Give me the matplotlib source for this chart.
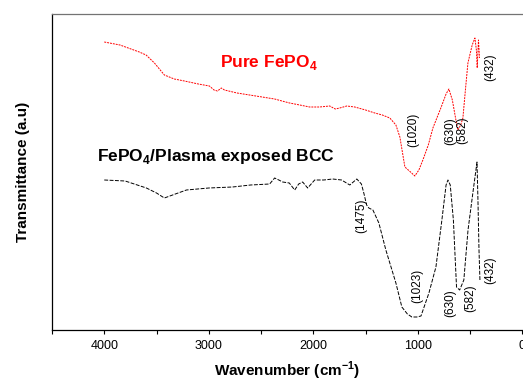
import matplotlib
matplotlib.use("Agg")
import matplotlib.pyplot as plt
from matplotlib.ticker import MultipleLocator

plt.rcParams.update({
    "font.family": ["Liberation Sans", "DejaVu Sans"],
    "mathtext.fontset": "custom",
    "mathtext.rm": "Liberation Sans",
    "mathtext.bf": "Liberation Sans:bold",
})

# ---------------------------------------------------------------- data
# pure FePO4 (red), transmittance in arbitrary units
wn_pure = [4000, 3850, 3665, 3600, 3520, 3425, 3330, 3233, 3100, 2994, 2950,
           2917, 2880, 2850, 2730, 2610, 2490, 2370, 2300, 2227, 2130, 2035,
           1940, 1843, 1790, 1747, 1680, 1604, 1500, 1412, 1340, 1268, 1210,
           1172, 1124, 1070, 1029, 990, 952, 900, 856, 780, 730, 703, 670,
           636, 617, 590, 569, 545, 521, 480, 454, 440, 432, 420, 410]
tr_pure = [288, 285, 278, 275, 267, 255, 251, 249, 246, 244, 240,
           239, 242, 240, 237, 235, 233, 231, 229, 227, 225, 223,
           223, 224, 221, 222, 224, 223, 220, 217, 215, 212, 205,
           193, 163, 158, 154, 160, 170, 185, 202, 222, 236, 241, 230,
           210, 200, 205, 212, 240, 267, 285, 292, 280, 262, 290, 272]

# FePO4 / plasma exposed BCC (black)
wn_bcc = [4000, 3800, 3597, 3500, 3425, 3320, 3214, 3000, 2773, 2600, 2418,
          2370, 2330, 2293, 2230, 2178, 2140, 2102, 2054, 1987, 1900, 1815,
          1730, 1651, 1584, 1540, 1517, 1490, 1469, 1430, 1373, 1306, 1210,
          1153, 1100, 1057, 1010, 970, 894, 827, 770, 730, 712, 690, 660,
          630, 600, 560, 520, 470, 434, 425, 415, 406]
tr_bcc = [150, 149, 142, 137, 132, 136, 140, 142, 143, 145, 146,
          152, 150, 148, 147, 140, 146, 148, 142, 150, 150, 151,
          150, 145, 151, 146, 137, 125, 122, 120, 107, 80, 47,
          23, 16, 13, 13, 14, 37, 63, 110, 145, 150, 145, 110,
          43, 40, 50, 100, 140, 168, 130, 80, 50]

peaks_pure = [(1020, 413, 130), (630, 450, 131), (582, 462, 130), (432, 490, 67)]
peaks_bcc = [(1475, 362, 216), (1023, 417, 286), (630, 450, 303),
             (582, 470, 298), (432, 490, 270)]


def px_to_wn(px):
    # pixel column of the reference -> wavenumber (4000 @ 105 px, 1000 @ 418 px)
    return 4000 - (px - 105) * 3000 / 313.0


# ---------------------------------------------------------------- figure
fig = plt.figure(figsize=(5.23, 3.83), dpi=100)
ax = fig.add_axes([52 / 523, 53 / 383, 471 / 523, 316 / 383])

ax.plot(wn_pure, tr_pure, color="red", lw=0.7, ls=(0, (2, 1)))
ax.plot(wn_bcc, tr_bcc, color="black", lw=0.7, ls=(0, (4, 1.5)))

for lab, px, py in peaks_pure + peaks_bcc:
    ax.text(px_to_wn(px), 330 - py, f"({lab})", rotation=90, fontsize=8.5,
            ha="center", va="center")

ax.text(px_to_wn(269), 330 - 63, r"Pure FePO$_\mathbf{4}$", color="red",
        fontsize=12.5, fontweight="bold", ha="center", va="center")
ax.text(px_to_wn(98), 330 - 157, r"FePO$_\mathbf{4}$/Plasma exposed BCC",
        color="black", fontsize=12.5, fontweight="bold", ha="left",
        va="center")

ax.set_xlim(4500, -6)
ax.set_ylim(0, 316)
ax.xaxis.set_major_locator(MultipleLocator(1000))
ax.xaxis.set_minor_locator(MultipleLocator(500))
ax.set_yticks([])
ax.tick_params(axis="x", which="both", direction="out", length=3,
               labelsize=9, width=0.8, pad=4)
for s in ["left", "bottom", "top"]:
    ax.spines[s].set_linewidth(0.9)
ax.spines["top"].set_color("0.45")
ax.spines["right"].set_visible(False)

ax.set_xlabel(r"Wavenumber (cm$^{\mathbf{-1}}$)", fontsize=11,
              fontweight="bold", labelpad=6)
ax.set_ylabel("Transmittance (a.u)", fontsize=11, fontweight="bold",
              labelpad=16)

fig.savefig("out.png", dpi=100)
